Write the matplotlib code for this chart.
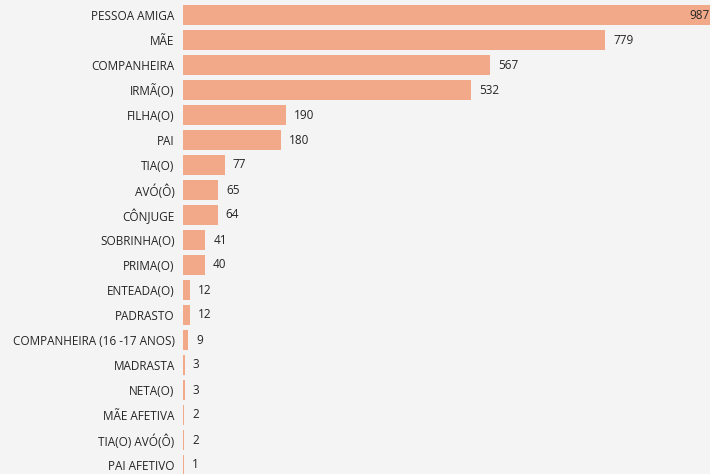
import matplotlib.pyplot as plt

categorias = ['PESSOA AMIGA', 'MÃE', 'COMPANHEIRA', 'IRMÃ(O)', 'FILHA(O)', 'PAI',
              'TIA(O)', 'AVÓ(Ô)', 'CÔNJUGE', 'SOBRINHA(O)', 'PRIMA(O)', 'ENTEADA(O)',
              'PADRASTO', 'COMPANHEIRA (16 -17 ANOS)', 'MADRASTA', 'NETA(O)',
              'MÃE AFETIVA', 'TIA(O) AVÓ(Ô)', 'PAI AFETIVO']
valores = [987, 779, 567, 532, 190, 180, 77, 65, 64, 41, 40, 12, 12, 9, 3, 3, 2, 2, 1]

plt.rcParams['font.family'] = ['Open Sans', 'DejaVu Sans']

fig = plt.figure(figsize=(7.1, 4.74), dpi=100, facecolor='#f4f4f4')
ax = fig.add_axes([183 / 710, 0, 1 - 183 / 710, 1])
ax.set_facecolor('#f4f4f4')

pos = list(range(len(categorias)))
ax.barh(pos, valores, height=0.78, color='#f2a98a')

xmax = (710 - 183) / ((605 - 183) / 779)
ax.set_xlim(0, xmax)
ax.set_ylim(18.36, -0.6)

for p, v in zip(pos, valores):
    if v > xmax * 0.95:
        ax.text(xmax - 1, p, str(v), va='center', ha='right', fontsize=8.5, color='#252525')
    else:
        ax.text(v + 15, p, str(v), va='center', ha='left', fontsize=8.5, color='#252525')

ax.set_yticks(pos)
ax.set_yticklabels(categorias, fontsize=8.5, color='#252525')
ax.tick_params(axis='y', length=0, pad=6)
ax.set_xticks([])
for s in ax.spines.values():
    s.set_visible(False)

fig.savefig('out.png', dpi=100, facecolor=fig.get_facecolor())
